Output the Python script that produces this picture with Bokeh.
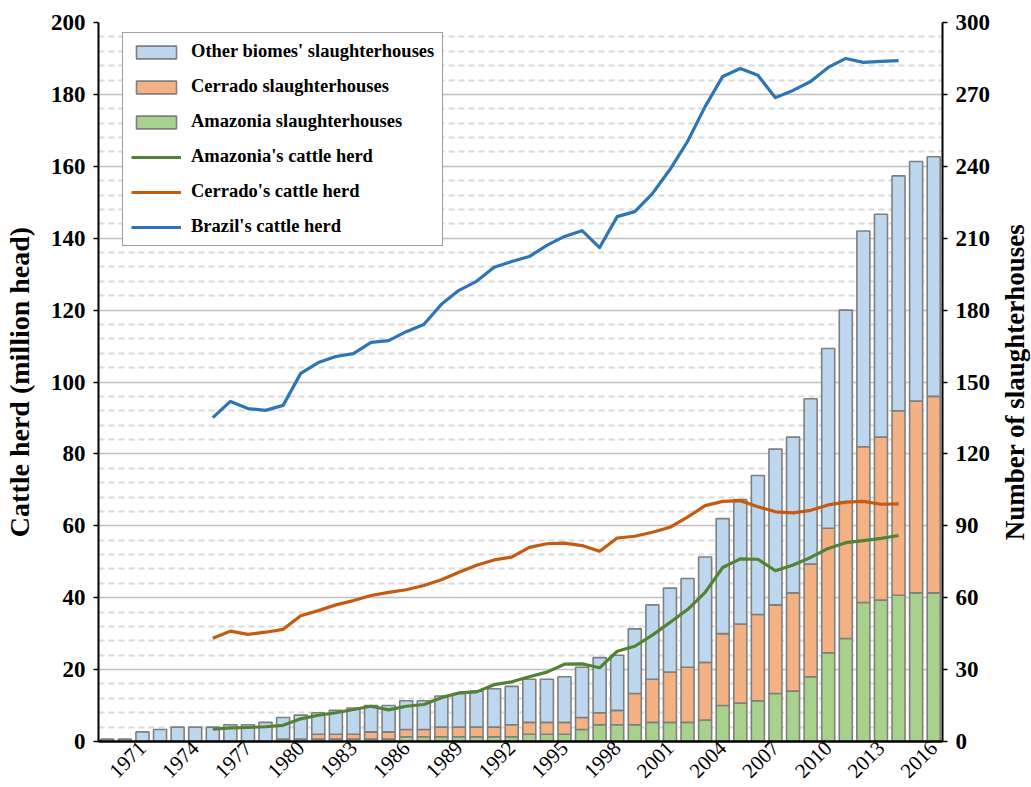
import math
from bokeh.plotting import figure
from bokeh.models import (Range1d, LinearAxis, FixedTicker, Legend, LegendItem,
                          ColumnDataSource, Label)
from bokeh.embed import file_html
from bokeh.resources import INLINE

# ---------------- data ----------------
bar_years = list(range(1969, 2017))
amazonia_sh = [0, 0, 0, 0, 0, 0, 0, 0, 0, 0, 0, 1, 1, 1, 1, 1, 1, 2, 2, 2,
               2, 2, 2, 2, 3, 3, 3, 5, 7, 7, 7, 8, 8, 8, 9, 15, 16, 17, 20, 21,
               27, 37, 43, 58, 59, 61, 62, 62]
cerrado_sh = [0, 0, 0, 0, 0, 0, 0, 0, 0, 0, 1, 0, 2, 2, 2, 3, 3, 3, 3, 4,
              4, 4, 4, 5, 5, 5, 5, 5, 5, 6, 13, 18, 21, 23, 24, 30, 33, 36, 37, 41,
              47, 52, 57, 65, 68, 77, 80, 82]
other_sh = [1, 1, 4, 5, 6, 6, 6, 7, 7, 8, 9, 10, 9, 10, 11, 11, 11, 12, 12, 13,
            14, 15, 16, 16, 18, 18, 19, 21, 23, 23, 27, 31, 35, 37, 44, 48, 52, 58, 65, 65,
            69, 75, 80, 90, 93, 98, 100, 100]

herd_years = list(range(1975, 2015))
brazil_herd = [90.1, 94.6, 92.6, 92.1, 93.5, 102.4, 105.4, 107.1, 107.9, 111.0,
               111.5, 114.0, 116.0, 121.6, 125.5, 128.0, 131.9, 133.5, 134.9, 138.0,
               140.5, 142.1, 137.4, 146.0, 147.4, 152.4, 159.1, 166.9, 176.6, 185.0,
               187.2, 185.3, 179.1, 181.1, 183.6, 187.5, 190.0, 188.9, 189.2, 189.4]
cerrado_herd = [28.7, 30.7, 29.8, 30.4, 31.2, 35.0, 36.4, 38.0, 39.2, 40.6,
                41.5, 42.2, 43.4, 45.0, 47.1, 49.0, 50.5, 51.3, 54.0, 55.0,
                55.2, 54.5, 52.9, 56.6, 57.1, 58.2, 59.6, 62.4, 65.6, 66.8,
                67.0, 65.3, 63.9, 63.6, 64.3, 65.8, 66.6, 66.8, 66.0, 66.1]
amazonia_herd = [3.4, 3.8, 3.9, 4.1, 4.5, 6.3, 7.3, 8.0, 8.9, 9.8,
                 8.8, 9.8, 10.3, 12.2, 13.5, 13.8, 15.8, 16.6, 18.0, 19.3,
                 21.5, 21.6, 20.5, 25.1, 26.5, 29.6, 33.1, 36.7, 41.5, 48.4,
                 50.8, 50.7, 47.5, 49.1, 51.2, 53.7, 55.3, 55.9, 56.5, 57.3]

x_tick_years = [1971, 1974, 1977, 1980, 1983, 1986, 1989, 1992, 1995, 1998,
                2001, 2004, 2007, 2010, 2013, 2016]
left_ticks = [0, 20, 40, 60, 80, 100, 120, 140, 160, 180, 200]
right_ticks = [0, 30, 60, 90, 120, 150, 180, 210, 240, 270, 300]

# ---------------- styling ----------------
SERIF = "Liberation Serif"
C_OTHER = "#BDD7EE"
C_CERR = "#F4B183"
C_AMAZ = "#A9D18E"
L_BRAZIL = "#2E75B6"
L_CERR = "#C55A11"
L_AMAZ = "#548235"

X_LO, X_HI = 1968.5, 2016.5
p = figure(width=1031, height=787, output_backend="svg", toolbar_location=None,
           x_range=Range1d(X_LO, X_HI), y_range=Range1d(0, 200),
           min_border_left=98, min_border_right=89, min_border_top=22,
           min_border_bottom=46)
p.extra_y_ranges = {"right": Range1d(0, 300)}
p.outline_line_color = None
p.background_fill_color = "white"
p.border_fill_color = "white"

# grid
yt = FixedTicker(ticks=left_ticks,
                 minor_ticks=[v for v in range(0, 201, 4) if v % 20 != 0])
p.yaxis.ticker = yt
p.ygrid.ticker = yt
p.ygrid.grid_line_color = "#808080"
p.ygrid.grid_line_dash = "1 1"
p.ygrid.grid_line_width = 1.4
p.ygrid.minor_grid_line_color = "#DADADA"
p.ygrid.minor_grid_line_dash = "6 4"
p.ygrid.minor_grid_line_width = 1.8
p.xgrid.visible = False

# bars
bar_src = ColumnDataSource(dict(year=bar_years, amazonia=amazonia_sh,
                                cerrado=cerrado_sh, other=other_sh))
bars = p.vbar_stack(["amazonia", "cerrado", "other"], x="year", width=0.74,
                    color=[C_AMAZ, C_CERR, C_OTHER], line_color="#7F7F7F",
                    line_width=1.6, source=bar_src, y_range_name="right")

# lines
herd_src = ColumnDataSource(dict(year=herd_years, brazil=brazil_herd,
                                 cerrado=cerrado_herd, amazonia=amazonia_herd))
r_br = p.line("year", "brazil", source=herd_src, line_color=L_BRAZIL,
              line_width=3.2, line_join="round")
r_ce = p.line("year", "cerrado", source=herd_src, line_color=L_CERR,
              line_width=3.2, line_join="round")
r_am = p.line("year", "amazonia", source=herd_src, line_color=L_AMAZ,
              line_width=3.2, line_join="round")

# x axis
xa = p.xaxis[0]
xa.ticker = FixedTicker(ticks=x_tick_years)
xa.major_label_orientation = math.pi / 4
xa.major_label_text_font = SERIF
xa.major_label_text_font_size = "21px"
xa.major_label_text_color = "black"
xa.major_tick_line_color = None
xa.minor_tick_line_color = None
xa.major_label_standoff = -3
xa.axis_line_color = "black"
xa.axis_line_width = 2.5

# left axis
ya = p.yaxis[0]
ya.axis_label = "Cattle herd (million head)"
ya.axis_label_text_font = SERIF
ya.axis_label_text_font_style = "bold"
ya.axis_label_text_font_size = "28px"
ya.axis_label_text_color = "black"
ya.axis_label_standoff = 13
ya.major_label_text_font = SERIF
ya.major_label_text_font_style = "bold"
ya.major_label_text_font_size = "23px"
ya.major_label_text_color = "black"
ya.major_label_standoff = 8
ya.major_tick_out = 5
ya.major_tick_in = 0
ya.major_tick_line_color = "black"
ya.major_tick_line_width = 1.5
ya.minor_tick_line_color = None
ya.axis_line_color = "black"
ya.axis_line_width = 2

# right axis
yr = LinearAxis(y_range_name="right", ticker=FixedTicker(ticks=right_ticks))
yr.major_label_text_font = SERIF
yr.major_label_text_font_style = "bold"
yr.major_label_text_font_size = "23px"
yr.major_label_text_color = "black"
yr.major_label_standoff = 8
yr.major_tick_out = 5
yr.major_tick_in = 0
yr.major_tick_line_color = "black"
yr.major_tick_line_width = 1.5
yr.minor_tick_line_color = None
yr.axis_line_color = "black"
yr.axis_line_width = 2
p.add_layout(yr, "right")

# right-axis title, reading bottom-to-top, in its own side panel
right_title = Label(x=21, x_units="screen", y=150, y_range_name="right",
                    text="Number of slaughterhouses", angle=math.pi / 2,
                    text_align="center", text_baseline="middle",
                    text_font=SERIF, text_font_style="bold",
                    text_font_size="27px", text_color="black")
p.add_layout(right_title, "right")

# legend
legend = Legend(items=[
    LegendItem(label="Other biomes' slaughterhouses", renderers=[bars[2]]),
    LegendItem(label="Cerrado slaughterhouses", renderers=[bars[1]]),
    LegendItem(label="Amazonia slaughterhouses", renderers=[bars[0]]),
    LegendItem(label="Amazonia's cattle herd", renderers=[r_am]),
    LegendItem(label="Cerrado's cattle herd", renderers=[r_ce]),
    LegendItem(label="Brazil's cattle herd", renderers=[r_br]),
], location=(24, 495))
legend.margin = 0
legend.padding = 8
legend.spacing = 14
legend.glyph_width = 50
legend.glyph_height = 16
legend.label_standoff = 10
legend.label_text_font = SERIF
legend.label_text_font_style = "bold"
legend.label_text_font_size = "18.5px"
legend.label_text_color = "black"
legend.border_line_color = "#404040"
legend.border_line_width = 1
legend.background_fill_color = "white"
legend.background_fill_alpha = 1
p.add_layout(legend, "center")

open("out.html", "w").write(file_html(p, INLINE))
